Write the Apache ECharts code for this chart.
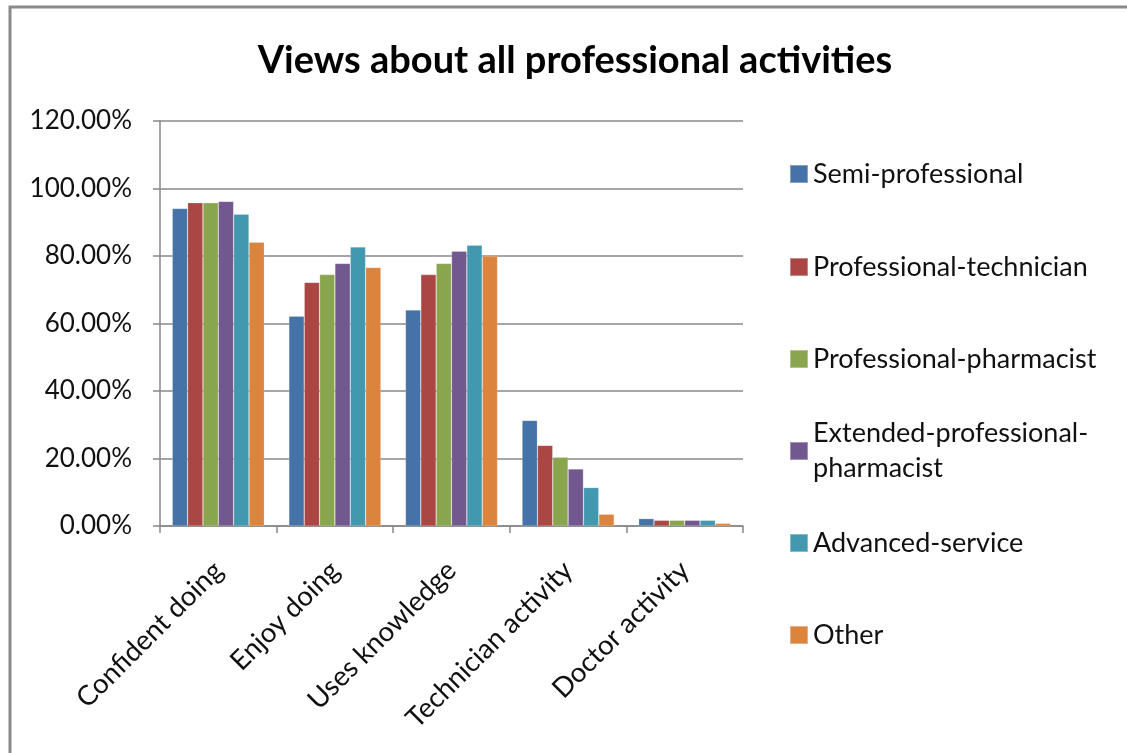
<!DOCTYPE html>
<html>
<head>
<meta charset="utf-8">
<script src="https://cdn.jsdelivr.net/npm/echarts@6/dist/echarts.min.js"></script>
<style>
  html, body { margin: 0; padding: 0; background: #fff; }
  #chart { width: 1127px; height: 753px; }
</style>
</head>
<body>
<div id="chart"></div>
<script>
var categories = ['Confident doing', 'Enjoy doing', 'Uses knowledge', 'Technician activity', 'Doctor activity'];
var seriesNames = ['Semi-professional', 'Professional-technician', 'Professional-pharmacist',
    'Extended-professional-pharmacist', 'Advanced-service', 'Other'];

// percentages per group
var semiProfessional = [94.1, 62.2, 64.0, 31.3, 2.2];
var profTechnician = [95.8, 72.2, 74.5, 23.9, 1.7];
var profPharmacist = [95.8, 74.5, 77.8, 20.4, 1.7];
var extendedPharmacist = [96.2, 77.8, 81.4, 16.9, 1.7];
var advancedService = [92.4, 82.7, 83.2, 11.4, 1.7];
var other = [84.1, 76.6, 80.0, 3.5, 0.8];

var yTicks = [0, 20, 40, 60, 80, 100, 120];

var values = [semiProfessional, profTechnician, profPharmacist, extendedPharmacist, advancedService, other];
var colors = ['#4572A7', '#AA4643', '#89A54E', '#71588F', '#4198AF', '#DB843D'];
var legendCenters = [174, 267, 359, 451, 543, 635];

var font = 'Lato, "Liberation Sans", sans-serif';

var series = [];
var legends = [];
for (var i = 0; i < seriesNames.length; i++) {
    series.push({
        name: seriesNames[i],
        type: 'bar',
        data: values[i],
        barGap: '0%',
        barCategoryGap: '21%',
        itemStyle: { color: colors[i], borderColor: 'rgba(255,255,255,0.35)', borderWidth: 0.6 }
    });
    var twoLine = seriesNames[i] == 'Extended-professional-pharmacist';
    legends.push({
        data: [seriesNames[i]],
        orient: 'vertical',
        left: 789,
        top: twoLine ? legendCenters[i] - 52.5 : legendCenters[i] - 14,
        padding: 0,
        itemWidth: 18,
        itemHeight: 18,
        itemGap: 6,
        icon: 'rect',
        selectedMode: false,
        formatter: function (name) {
            return name == 'Extended-professional-pharmacist' ? 'Extended-professional-\npharmacist' : name;
        },
        textStyle: {
            fontFamily: font, fontSize: 27, color: '#111',
            lineHeight: twoLine ? 35 : 28,
            padding: twoLine ? [35, 0, 0, 0] : 0
        }
    });
}

var chart = echarts.init(document.getElementById('chart'));
chart.setOption({
    backgroundColor: '#fff',
    animation: false,
    title: {
        text: 'Views about all professional activities',
        left: 570,
        textAlign: 'center',
        top: 37,
        textStyle: { fontFamily: font, fontSize: 38, fontWeight: 'bold', color: '#000' }
    },
    graphic: [{
        type: 'rect',
        shape: { x: 10, y: 7, width: 1130, height: 760 },
        style: { fill: 'none', stroke: '#8a8a8a', lineWidth: 3 }
    }],
    legend: legends,
    grid: { left: 160, right: 384, top: 121, bottom: 227 },
    xAxis: {
        type: 'category',
        data: categories,
        axisLine: { lineStyle: { color: '#888', width: 1.5 } },
        axisTick: { show: true, length: 7, lineStyle: { color: '#888', width: 1.5 } },
        axisLabel: {
            rotate: 45, margin: 40, interval: 0,
            fontFamily: font, fontSize: 27.5, color: '#111'
        }
    },
    yAxis: {
        type: 'value',
        min: yTicks[0],
        max: yTicks[yTicks.length - 1],
        interval: 20,
        axisLine: { show: true, lineStyle: { color: '#888', width: 1.5 } },
        axisTick: { show: true, length: 7, lineStyle: { color: '#888', width: 1.5 } },
        splitLine: { lineStyle: { color: '#888', width: 1.5 } },
        axisLabel: {
            margin: 28,
            fontFamily: font, fontSize: 26, color: '#111',
            formatter: function (v) { return v.toFixed(2) + '%'; }
        }
    },
    series: series
});
</script>
</body>
</html>
